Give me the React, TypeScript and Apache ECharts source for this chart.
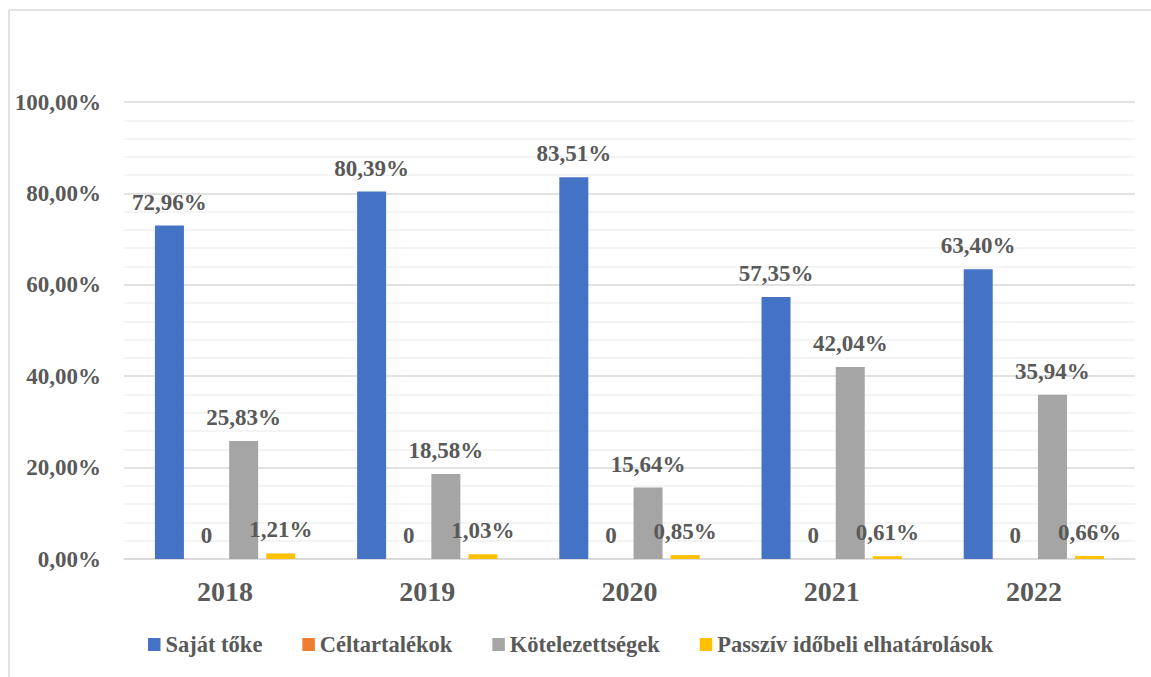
import React, { useEffect, useRef } from "react";
import * as echarts from "echarts";

const categories = ["2018", "2019", "2020", "2021", "2022"];
const seriesNames = ["Saját tőke", "Céltartalékok", "Kötelezettségek", "Passzív időbeli elhatárolások"];
const sajatToke = [72.96, 80.39, 83.51, 57.35, 63.4];
const celtartalekok = [0, 0, 0, 0, 0];
const kotelezettsegek = [25.83, 18.58, 15.64, 42.04, 35.94];
const passziv = [1.21, 1.03, 0.85, 0.61, 0.66];
const colors = ["#4472C4", "#ED7D31", "#A5A5A5", "#FFC000"];

const FONT = "Liberation Serif, Times New Roman, serif";
const TXT = "#595959";

const pct = (v: number) => v.toFixed(2).replace(".", ",") + "%";

export default function App() {
  const ref = useRef<HTMLDivElement>(null);
  useEffect(() => {
    if (!ref.current) return;
    const chart = echarts.init(ref.current, null, { renderer: "svg" });
    const label = (zeroPlain: boolean) => ({
      show: true,
      position: "top",
      distance: 12,
      fontFamily: FONT,
      fontWeight: "bold",
      fontSize: 23,
      color: TXT,
      formatter: (p: any) => (zeroPlain ? String(p.value) : pct(p.value)),
    });
    const datasets = [sajatToke, celtartalekok, kotelezettsegek, passziv];
    chart.setOption({
      animation: false,
      color: colors,
      textStyle: { fontFamily: FONT },
      grid: { left: 124, right: 16, top: 102, bottom: 118, containLabel: false },
      graphic: [
        { type: "line", shape: { x1: 9, y1: 10, x2: 1151, y2: 10 }, style: { stroke: "#d9d9d9", lineWidth: 1.5 } },
        { type: "line", shape: { x1: 9, y1: 10, x2: 9, y2: 677 }, style: { stroke: "#d9d9d9", lineWidth: 1.5 } },
      ],
      legend: {
        left: 148,
        top: 633,
        padding: 0,
        itemWidth: 12.5,
        itemHeight: 13,
        itemGap: 40,
        icon: "rect",
        textStyle: { fontFamily: FONT, fontWeight: "bold", fontSize: 22.5, color: TXT },
        data: seriesNames,
      },
      xAxis: {
        type: "category",
        data: categories,
        axisLine: { lineStyle: { color: "#d9d9d9", width: 1.5 } },
        axisTick: { show: false },
        axisLabel: { fontFamily: FONT, fontWeight: "bold", fontSize: 28, color: TXT, margin: 18 },
      },
      yAxis: {
        type: "value",
        min: 0,
        max: 100,
        interval: 20,
        axisLine: { show: false },
        axisTick: { show: false },
        axisLabel: {
          fontFamily: FONT,
          fontWeight: "bold",
          fontSize: 23,
          color: TXT,
          margin: 23,
          formatter: (v: number) => pct(v),
        },
        splitLine: { lineStyle: { color: "#d9d9d9", width: 1.5 } },
        minorTick: { show: false, splitNumber: 5 },
        minorSplitLine: { show: true, lineStyle: { color: "#f0f0f0", width: 1.5 } },
      },
      series: datasets.map((d, i) => ({
        name: seriesNames[i],
        type: "bar",
        data: d,
        barWidth: 29,
        barGap: "28%",
        label: label(i === 1),
      })),
    });
    return () => chart.dispose();
  }, []);
  return <div ref={ref} style={{ position: "fixed", left: 0, top: 0, width: 1151, height: 677, background: "#fff" }} />;
}
